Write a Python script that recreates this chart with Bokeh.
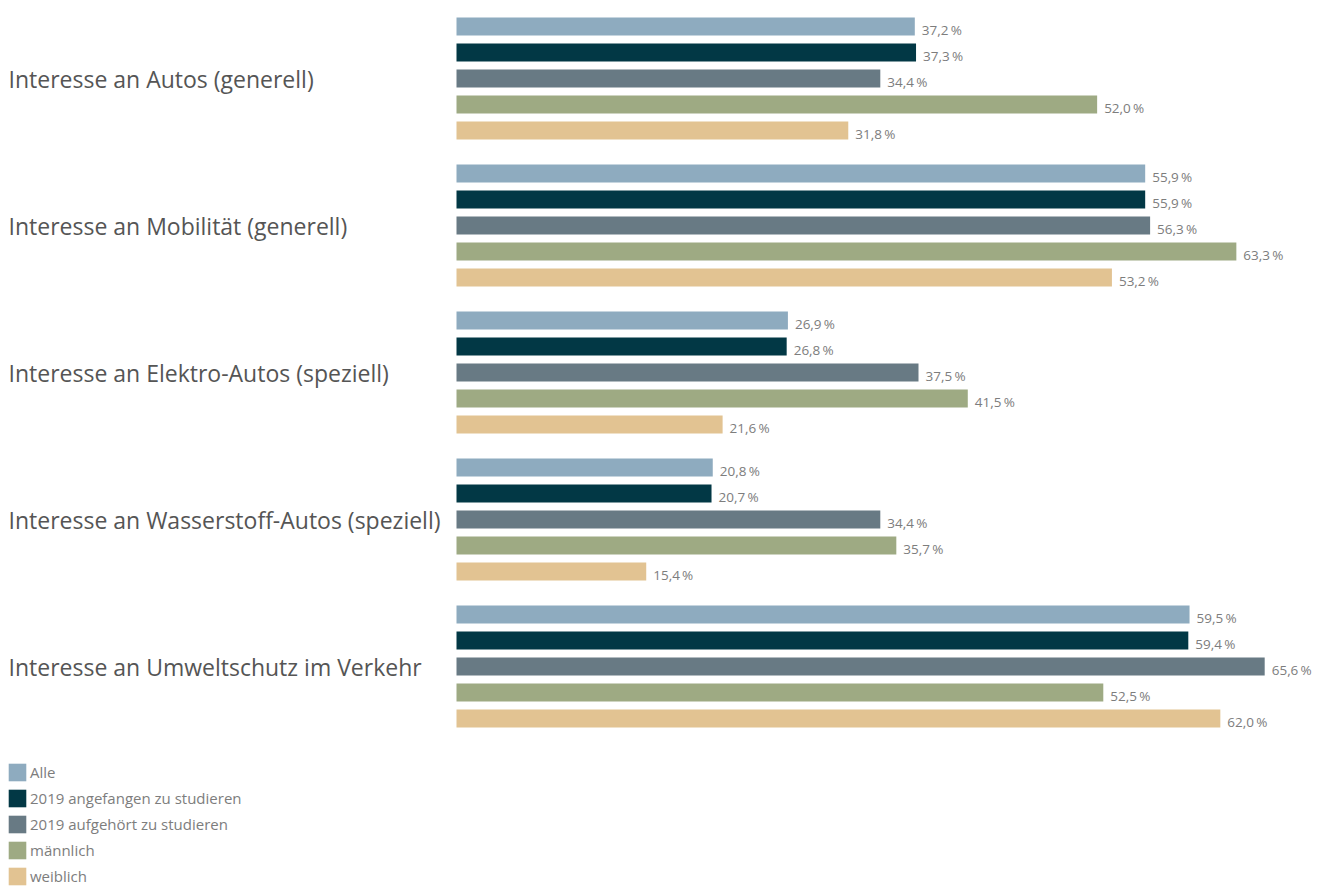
from bokeh.plotting import figure
from bokeh.models import Range1d, ColumnDataSource, Legend, LegendItem
from bokeh.core.properties import value
from bokeh.embed import file_html
from bokeh.resources import INLINE

categories = [
    "Interesse an Autos (generell)",
    "Interesse an Mobilität (generell)",
    "Interesse an Elektro-Autos (speziell)",
    "Interesse an Wasserstoff-Autos (speziell)",
    "Interesse an Umweltschutz im Verkehr",
]
series_names = ["Alle", "2019 angefangen zu studieren", "2019 aufgehört zu studieren", "männlich", "weiblich"]
alle = [37.2, 55.9, 26.9, 20.8, 59.5]
angefangen = [37.3, 55.9, 26.8, 20.7, 59.4]
aufgehoert = [34.4, 56.3, 37.5, 34.4, 65.6]
maennlich = [52.0, 63.3, 41.5, 35.7, 52.5]
weiblich = [31.8, 53.2, 21.6, 15.4, 62.0]
colors = ["#8eabbf", "#023845", "#687a84", "#9eaa83", "#e2c392"]

series_values = [alle, angefangen, aufgehoert, maennlich, weiblich]

W, H = 1322, 889
PX_PER_UNIT = 12.32
ZERO_PX = 456
GROUP_PITCH = 147
BAR_PITCH = 26
FIRST = 26
BAR_H = 18
FONT = "Open Sans"

x_start = -ZERO_PX / PX_PER_UNIT
x_end = (W - ZERO_PX) / PX_PER_UNIT
label_x = x_start + 8 / PX_PER_UNIT

p = figure(width=W, height=H, output_backend="svg", toolbar_location=None,
           x_range=Range1d(x_start, x_end), y_range=Range1d(H, 0),
           x_axis_type=None, y_axis_type=None, min_border=0,
           min_border_left=0, min_border_right=0, min_border_top=0, min_border_bottom=0)
p.outline_line_color = None
p.xgrid.visible = False
p.ygrid.visible = False
p.background_fill_color = "white"

def fmt(v):
    return f"{v:.1f}".replace(".", ",") + "\u2009%"

items = []
for j, (name, vals, col) in enumerate(zip(series_names, series_values, colors)):
    ys = [FIRST + i * GROUP_PITCH + j * BAR_PITCH for i in range(len(categories))]
    src = ColumnDataSource(dict(y=ys, right=vals, label=[fmt(v) for v in vals]))
    r = p.hbar(y="y", left=0, right="right", height=BAR_H, source=src,
               fill_color=col, line_color=None)
    p.text(x="right", y="y", text="label", source=src, x_offset=7, y_offset=3,
           text_font=value(FONT), text_font_size="13.5px", text_color="#7d7d7d",
           text_baseline="middle", text_align="left")
    items.append(LegendItem(label=name, renderers=[r]))

cat_y = [FIRST + i * GROUP_PITCH + 2 * BAR_PITCH for i in range(len(categories))]
p.text(x=[label_x] * len(categories), y=cat_y, text=categories,
       text_font=value(FONT), text_font_size="23px", text_color="#555555",
       text_baseline="middle", text_align="left")

legend = Legend(items=items, location=(6, 2), orientation="vertical",
                glyph_width=22, glyph_height=22, label_height=22, spacing=4,
                label_standoff=2, padding=0, margin=0,
                border_line_color=None, background_fill_alpha=0,
                label_text_font=FONT, label_text_font_size="15px",
                label_text_color="#7d7d7d")
p.add_layout(legend, "center")

open("out.html", "w").write(file_html(p, INLINE))
